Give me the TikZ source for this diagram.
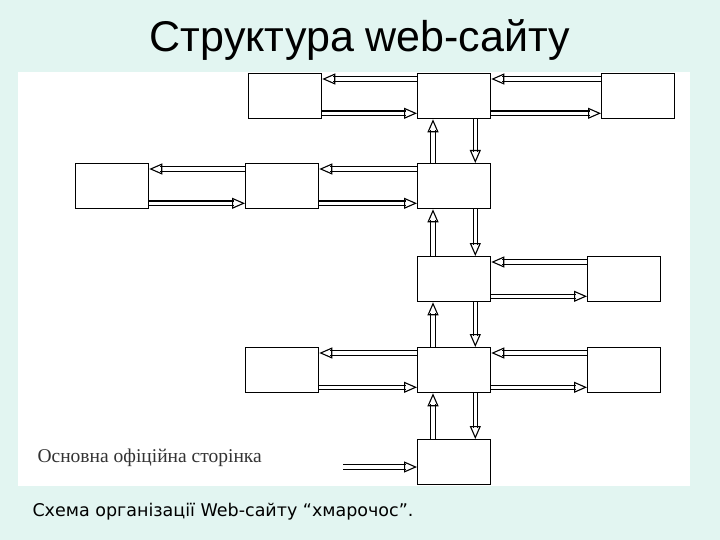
\documentclass[tikz,border=0pt]{standalone}
\usepackage{fontspec}
\setmainfont{Liberation Serif}
\newfontfamily\ttlfont{Liberation Sans}
\newfontfamily\capfont{DejaVu Sans}
\usetikzlibrary{arrows.meta}
\definecolor{bgc}{HTML}{E2F5F1}
\begin{document}
\begin{tikzpicture}[x=1pt,y=-1pt,
 bx/.style={draw=black,line width=1.3pt,fill=white,anchor=north west,minimum width=73pt,minimum height=45pt,inner sep=0pt},
 shaft/.style={draw=black,line width=1.2pt,double=white,double distance=3.2pt,shorten >=11pt},
 tip/.style={draw=white,line width=2.8pt,-{Triangle[open,length=13pt,width=11pt,line width=1.1pt,color=black]}}]
\fill[bgc] (0,0) rectangle (720,540);
\useasboundingbox (0,0) rectangle (720,540);
\fill[white] (18,72) rectangle (690,486);
\node[font=\ttlfont\fontsize{43}{46}\selectfont] (title) at (360,40) {Структура web-сайту};
\node[font=\capfont\fontsize{17.5}{20}\selectfont,anchor=west] (cap) at (29,512) {Схема організації Web-сайту “хмарочос”.};
\node[font=\fontsize{19.5}{22}\selectfont,anchor=west,text=black!80] (lab) at (34,458) {Основна офіційна сторінка};
\node[bx] (a1) at (248,73) {};
\node[bx] (c1) at (417,73) {};
\node[bx] (b1) at (601,73) {};
\node[bx] (d2) at (75,163) {};
\node[bx] (a2) at (245,163) {};
\node[bx] (c2) at (417,163) {};
\node[bx] (c3) at (417,256) {};
\node[bx] (b3) at (587,256) {};
\node[bx] (a4) at (245,347) {};
\node[bx] (c4) at (417,347) {};
\node[bx] (b4) at (587,347) {};
\node[bx] (c5) at (417,439) {};
\coordinate (in) at (343,467);
\foreach \l/\r in {a1/c1,c1/b1,d2/a2,a2/c2,c3/b3,a4/c4,c4/b4}{
  \draw[shaft] ([yshift=-6pt]\r.north west) -- ([yshift=-6pt]\l.north east);
  \draw[tip] ([yshift=-6pt]\r.north west) -- ([yshift=-6pt]\l.north east);
  \draw[shaft] ([yshift=6pt]\l.south east) -- ([yshift=6pt]\r.south west);
  \draw[tip] ([yshift=6pt]\l.south east) -- ([yshift=6pt]\r.south west);
}
\foreach \u/\d in {c1/c2,c2/c3,c3/c4,c4/c5}{
  \draw[shaft] ([xshift=16pt]\d.north west) -- ([xshift=16pt]\u.south west);
  \draw[tip] ([xshift=16pt]\d.north west) -- ([xshift=16pt]\u.south west);
  \draw[shaft] ([xshift=-16pt]\u.south east) -- ([xshift=-16pt]\d.north east);
  \draw[tip] ([xshift=-16pt]\u.south east) -- ([xshift=-16pt]\d.north east);
}
\draw[shaft] (in) -- (c5.west|-in);
\draw[tip] (in) -- (c5.west|-in);
\end{tikzpicture}
\end{document}
